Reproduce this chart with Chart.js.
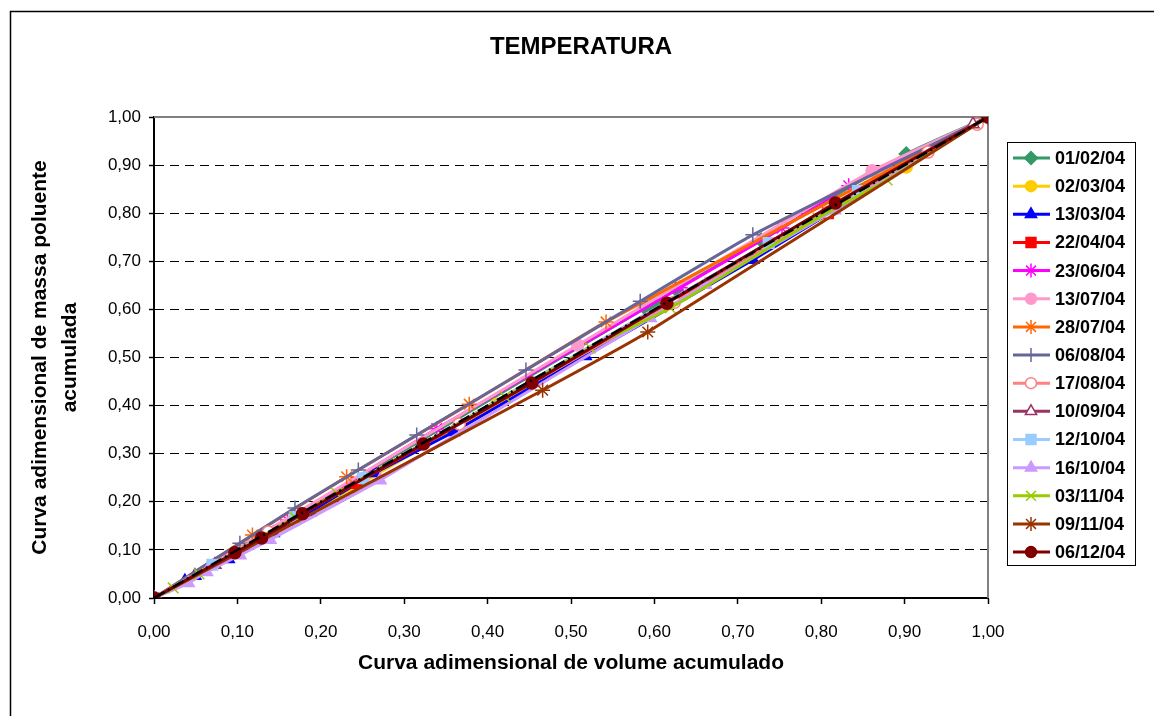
<!DOCTYPE html>
<html>
<head>
<meta charset="utf-8">
<script src="https://cdn.jsdelivr.net/npm/chart.js@4.4.1/dist/chart.umd.min.js"></script>
<style>
  body { margin: 0; background: #fff; }
</style>
</head>
<body>
<canvas id="chart" width="1154" height="716"></canvas>
<script>
const labels = ['01/02/04', '02/03/04', '13/03/04', '22/04/04', '23/06/04', '13/07/04', '28/07/04', '06/08/04',
  '17/08/04', '10/09/04', '12/10/04', '16/10/04', '03/11/04', '09/11/04', '06/12/04'];

// x = curva adimensional de volume, y = curva adimensional de massa
const x010204 = [0, 0.589, 0.600, 0.626, 0.728, 0.902, 1];
const y010204 = [0, 0.603, 0.613, 0.642, 0.744, 0.923, 1];
const x020304 = [0, 0.239, 0.411, 0.902, 1];
const y020304 = [0, 0.229, 0.403, 0.896, 1];
const x130304 = [0, 0.037, 0.049, 0.089, 0.143, 0.187, 0.265, 0.359, 0.517, 0.718, 1];
const y130304 = [0, 0.035, 0.046, 0.081, 0.135, 0.179, 0.260, 0.345, 0.503, 0.703, 1];
const x220404 = [0, 0.243, 0.808, 1];
const y220404 = [0, 0.239, 0.800, 1];
const x230604 = [0, 0.160, 0.339, 0.631, 0.753, 0.833, 1];
const y230604 = [0, 0.162, 0.352, 0.645, 0.769, 0.857, 1];
const x130704 = [0, 0.508, 0.861, 1];
const y130704 = [0, 0.526, 0.888, 1];
const x280704 = [0, 0.118, 0.231, 0.378, 0.542, 1];
const y280704 = [0, 0.131, 0.252, 0.403, 0.574, 1];
const x060804 = [0, 0.103, 0.169, 0.245, 0.315, 0.446, 0.583, 0.718, 1];
const y060804 = [0, 0.114, 0.187, 0.266, 0.339, 0.474, 0.617, 0.755, 1];
const x170804 = [0, 0.137, 0.366, 0.624, 0.808, 0.928, 0.987, 1];
const y170804 = [0, 0.137, 0.362, 0.615, 0.802, 0.927, 0.985, 1];
const x100904 = [0, 0.073, 0.982, 1];
const y100904 = [0, 0.069, 0.985, 1];
const x121004 = [0, 0.070, 0.169, 0.251, 0.737, 0.844, 1];
const y121004 = [0, 0.069, 0.168, 0.249, 0.738, 0.846, 1];
const x161004 = [0, 0.041, 0.063, 0.103, 0.139, 0.271, 0.595, 0.661, 0.816, 1];
const y161004 = [0, 0.031, 0.054, 0.089, 0.121, 0.245, 0.582, 0.651, 0.806, 1];
const x031104 = [0, 0.023, 0.054, 0.169, 0.219, 0.421, 0.523, 0.619, 0.796, 0.879, 1];
const y031104 = [0, 0.021, 0.050, 0.168, 0.218, 0.418, 0.520, 0.603, 0.790, 0.869, 1];
const x091104 = [0, 0.466, 0.592, 1];
const y091104 = [0, 0.432, 0.553, 1];
const x061204 = [0, 0.097, 0.129, 0.178, 0.323, 0.453, 0.615, 0.817, 1];
const y061204 = [0, 0.094, 0.125, 0.175, 0.320, 0.447, 0.613, 0.821, 1];

// reta 1:1
const xRef = [0, 1];
const yRef = [0, 1];

const yTicks = [0, 0.1, 0.2, 0.3, 0.4, 0.5, 0.6, 0.7, 0.8, 0.9, 1];

const seriesX = [x010204, x020304, x130304, x220404, x230604, x130704, x280704, x060804,
  x170804, x100904, x121004, x161004, x031104, x091104, x061204];
const seriesY = [y010204, y020304, y130304, y220404, y230604, y130704, y280704, y060804,
  y170804, y100904, y121004, y161004, y031104, y091104, y061204];

const styles = [
  { color: '#339966', fill: '#339966', point: 'rectRot', r: 7 },
  { color: '#FFCC00', fill: '#FFCC00', point: 'circle', r: 6 },
  { color: '#0000FF', fill: '#0000FF', point: 'triangle', r: 7 },
  { color: '#FF0000', fill: '#FF0000', point: 'rect', r: 7.5 },
  { color: '#FF00FF', fill: '#FF00FF', point: 'star', r: 7.5 },
  { color: '#FF99CC', fill: '#FF99CC', point: 'circle', r: 6 },
  { color: '#FF6600', fill: '#FF6600', point: 'star', r: 7.5 },
  { color: '#666699', fill: '#666699', point: 'cross', r: 7.5 },
  { color: '#FF8080', fill: '#FFFFFF', point: 'circle', r: 6 },
  { color: '#993366', fill: '#FFFFFF', point: 'triangle', r: 7 },
  { color: '#99CCFF', fill: '#99CCFF', point: 'rect', r: 7.5 },
  { color: '#CC99FF', fill: '#CC99FF', point: 'triangle', r: 7 },
  { color: '#99CC00', fill: '#99CC00', point: 'crossRot', r: 7.5 },
  { color: '#993300', fill: '#993300', point: 'star', r: 7.5 },
  { color: '#800000', fill: '#800000', point: 'circle', r: 6 }
];

const toPoints = (xs, ys) => xs.map((x, i) => ({ x, y: ys[i] }));
const fmt = v => Number(v).toFixed(2).replace('.', ',');
const FONT = '"Liberation Sans", Arial, sans-serif';

const datasets = labels.map((label, i) => ({
  label,
  data: toPoints(seriesX[i], seriesY[i]),
  borderColor: styles[i].color,
  backgroundColor: styles[i].fill,
  pointBorderColor: styles[i].color,
  pointBackgroundColor: styles[i].fill,
  pointStyle: styles[i].point,
  pointRadius: styles[i].r,
  pointBorderWidth: 1.5,
  borderWidth: 3,
  tension: 0.15,
  order: labels.length - i
}));

datasets.push({
  label: 'ref',
  data: toPoints(xRef, yRef),
  borderColor: '#000',
  borderWidth: 2.5,
  borderDash: [12, 4, 2, 4],
  pointRadius: 0,
  order: 0
});

// outer frame, title and grey plot border
const framePlugin = {
  id: 'frame',
  beforeDraw(chart) {
    const ctx = chart.ctx;
    ctx.save();
    ctx.fillStyle = '#fff';
    ctx.fillRect(0, 0, chart.width, chart.height);
    ctx.strokeStyle = '#000';
    ctx.lineWidth = 1.5;
    ctx.beginPath();
    ctx.moveTo(10.5, chart.height);
    ctx.lineTo(10.5, 11.5);
    ctx.lineTo(chart.width, 11.5);
    ctx.stroke();
    ctx.fillStyle = '#000';
    ctx.font = 'bold 24px ' + FONT;
    ctx.textAlign = 'center';
    ctx.textBaseline = 'middle';
    ctx.fillText('TEMPERATURA', 581, 47);
    ctx.restore();
  },
  beforeDatasetsDraw(chart) {
    const { ctx, chartArea: a } = chart;
    ctx.save();
    ctx.strokeStyle = '#808080';
    ctx.lineWidth = 2;
    ctx.beginPath();
    ctx.moveTo(a.left, a.top);
    ctx.lineTo(a.right, a.top);
    ctx.lineTo(a.right, a.bottom);
    ctx.stroke();
    ctx.restore();
  }
};

// legend in a box on the right, Excel style
const legendPlugin = {
  id: 'boxLegend',
  afterDraw(chart) {
    const ctx = chart.ctx;
    const left = 1007, top = 142, w = 128, h = 423;
    ctx.save();
    ctx.fillStyle = '#fff';
    ctx.fillRect(left, top, w, h);
    ctx.strokeStyle = '#000';
    ctx.lineWidth = 1;
    ctx.strokeRect(left + 0.5, top + 0.5, w, h);
    labels.forEach((label, i) => {
      const y = 158 + i * 28.15;
      const st = styles[i];
      ctx.strokeStyle = st.color;
      ctx.lineWidth = 3;
      ctx.beginPath();
      ctx.moveTo(1013, y);
      ctx.lineTo(1050, y);
      ctx.stroke();
      ctx.fillStyle = st.fill;
      ctx.lineWidth = 1.5;
      Chart.helpers.drawPoint(ctx, { pointStyle: st.point, radius: st.r - 0.5, rotation: 0, borderWidth: 1.5 }, 1031, y);
      ctx.fillStyle = '#000';
      ctx.font = 'bold 18px ' + FONT;
      ctx.textBaseline = 'middle';
      ctx.textAlign = 'left';
      ctx.fillText(label, 1055, y + 1);
    });
    ctx.restore();
  }
};

const tickFont = { family: FONT, size: 17 };
const axisTitleFont = { family: FONT, size: 21, weight: 'bold' };

new Chart(document.getElementById('chart'), {
  type: 'line',
  data: { datasets },
  plugins: [framePlugin, legendPlugin],
  options: {
    responsive: false,
    animation: false,
    layout: { padding: { left: 0, right: 166, top: 117, bottom: 0 } },
    plugins: {
      legend: { display: false },
      tooltip: { enabled: false },
      title: { display: false }
    },
    scales: {
      x: {
        type: 'linear',
        min: 0,
        max: 1,
        afterFit: s => { s.height = 118; },
        ticks: { stepSize: 0.1, callback: fmt, color: '#000', font: tickFont, padding: 18, maxRotation: 0 },
        grid: { drawOnChartArea: false, tickLength: 6, tickColor: '#000', tickWidth: 1.5 },
        border: { color: '#000', width: 2 },
        title: {
          display: true,
          text: 'Curva adimensional de volume acumulado',
          color: '#000',
          font: axisTitleFont,
          padding: { top: 0, bottom: 40 }
        }
      },
      y: {
        type: 'linear',
        min: 0,
        max: 1,
        afterFit: s => { s.width = 154; },
        afterBuildTicks: s => { s.ticks = yTicks.map(v => ({ value: v })); },
        ticks: { callback: fmt, color: '#000', font: tickFont, padding: 8 },
        grid: {
          color: c => (c.tick && (c.tick.value === 0 || c.tick.value === 1)) ? 'rgba(0,0,0,0)' : '#000',
          lineWidth: 1,
          tickLength: 5,
          tickColor: '#000',
          tickWidth: 1.5
        },
        border: { color: '#000', width: 2, dash: [9, 6] },
        title: {
          display: true,
          text: ['Curva adimensional de massa poluente', 'acumulada'],
          color: '#000',
          font: { family: FONT, size: 21, weight: 'bold', lineHeight: 1.4 },
          padding: { top: 26, bottom: 0 }
        }
      }
    }
  }
});
</script>
</body>
</html>
